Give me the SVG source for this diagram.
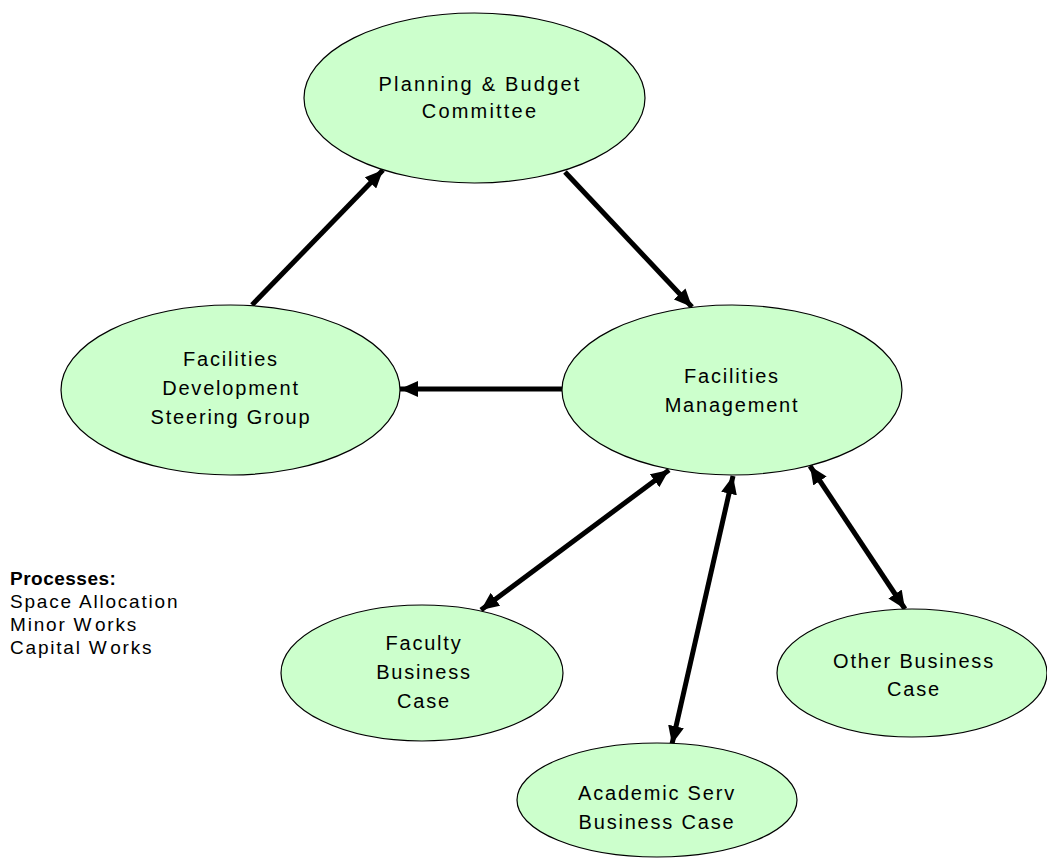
<svg xmlns="http://www.w3.org/2000/svg" width="1047" height="868" viewBox="0 0 1047 868">
<style>
.node{fill:#ccffcc;stroke:#000;stroke-width:1.2}
.lbl{font-family:"Liberation Sans",Arial,sans-serif;font-size:20px;letter-spacing:1.8px;fill:#000;text-anchor:middle}
.proc{font-family:"Liberation Sans",Arial,sans-serif;font-size:19px;letter-spacing:1.8px;fill:#000}
.edge{stroke:#000;stroke-width:5;fill:none}
</style>
<defs>
<marker id="ah" markerUnits="userSpaceOnUse" markerWidth="20" markerHeight="16" refX="18" refY="8" orient="auto-start-reverse" viewBox="0 0 20 16">
<path d="M0,0 L18,8 L0,16 Z" fill="#000"/>
</marker>
</defs>
<rect width="1047" height="868" fill="#fff"/>
<g id="connectors">
<line class="edge" x1="252" y1="305" x2="383" y2="170" marker-end="url(#ah)"/>
<line class="edge" x1="565" y1="172" x2="692" y2="307" marker-end="url(#ah)"/>
<line class="edge" x1="562" y1="389" x2="400" y2="389" marker-end="url(#ah)"/>
<line class="edge" x1="669" y1="470" x2="481" y2="610" marker-start="url(#ah)" marker-end="url(#ah)"/>
<line class="edge" x1="733" y1="476" x2="672" y2="744" marker-start="url(#ah)" marker-end="url(#ah)"/>
<line class="edge" x1="810" y1="466" x2="905" y2="609" marker-start="url(#ah)" marker-end="url(#ah)"/>
</g>
<g id="planning">
<ellipse class="node" cx="474.5" cy="98" rx="170.5" ry="85"/>
<text class="lbl" x="480" y="91" style="letter-spacing:2.2px">Planning &amp; Budget</text>
<text class="lbl" x="480" y="118" style="letter-spacing:2.2px">Committee</text>
</g>
<g id="fdsg">
<ellipse class="node" cx="230.5" cy="390" rx="169.5" ry="85"/>
<text class="lbl" x="231" y="366">Facilities</text>
<text class="lbl" x="231" y="395">Development</text>
<text class="lbl" x="231" y="424">Steering Group</text>
</g>
<g id="fm">
<ellipse class="node" cx="732" cy="390" rx="170" ry="85"/>
<text class="lbl" x="732" y="383">Facilities</text>
<text class="lbl" x="732" y="412">Management</text>
</g>
<g id="faculty">
<ellipse class="node" cx="422" cy="673" rx="141" ry="68"/>
<text class="lbl" x="424" y="650">Faculty</text>
<text class="lbl" x="424" y="679">Business</text>
<text class="lbl" x="424" y="708">Case</text>
</g>
<g id="other">
<ellipse class="node" cx="912" cy="673" rx="135" ry="64"/>
<text class="lbl" x="914" y="668">Other Business</text>
<text class="lbl" x="914" y="696">Case</text>
</g>
<g id="academic">
<ellipse class="node" cx="657" cy="800" rx="140" ry="57"/>
<text class="lbl" x="657" y="800">Academic Serv</text>
<text class="lbl" x="657" y="829">Business Case</text>
</g>
<g id="processes">
<text class="proc" x="10" y="585" font-weight="bold" style="letter-spacing:0.5px">Processes:</text>
<text class="proc" x="10" y="608">Space Allocation</text>
<text class="proc" x="10" y="631">Minor W<tspan dx="2">orks</tspan></text>
<text class="proc" x="10" y="654">Capital W<tspan dx="2">orks</tspan></text>
</g>
</svg>
